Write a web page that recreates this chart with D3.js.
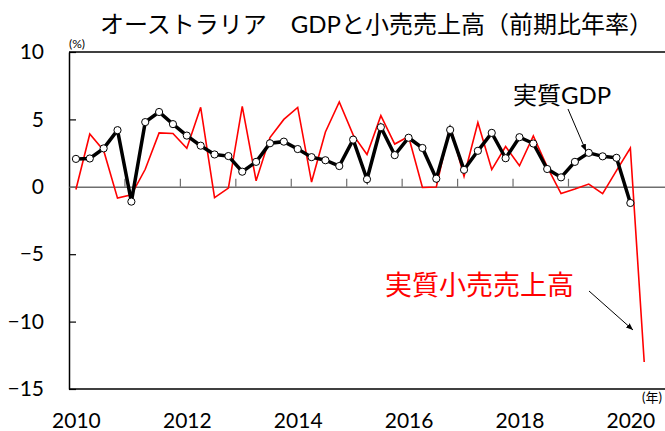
<!DOCTYPE html>
<html>
<head>
<meta charset="utf-8">
<script src="https://cdn.jsdelivr.net/npm/d3@7"></script>
<style>
  body { margin: 0; background: #fff; }
  svg { display: block; font-family: Lato, 'Noto Sans CJK JP', sans-serif; }
</style>
</head>
<body>
<svg id="chart" width="665" height="431"></svg>
<script>
// quarterly, 2010Q1 .. 2020Q2 (percent, annualised q/q)
const gdp = [
  2.07, 2.1, 2.85, 4.2, -1.1, 4.8, 5.55, 4.65, 3.8, 3.05,
  2.4, 2.28, 1.12, 1.85, 3.23, 3.35, 2.8, 2.2, 1.97, 1.54,
  3.5, 0.56, 4.42, 2.35, 3.64, 2.88, 0.6, 4.22, 1.26, 2.67,
  4.0, 2.12, 3.68, 3.21, 1.32, 0.7, 1.85, 2.52, 2.26, 2.15,
  -1.2
]
const retail = [
  -0.2, 3.92, 2.7, -0.84, -0.6, 1.3, 4.0, 3.95, 2.86, 5.9,
  -0.8, -0.1, 5.97, 0.45, 3.65, 5.0, 5.89, 0.35, 4.07, 6.3,
  3.85, 2.4, 5.28, 3.17, 3.73, -0.05, -0.02, 4.5, 0.77, 4.77,
  1.28, 2.99, 1.56, 3.78, 1.48, -0.5, -0.17, 0.2, -0.5, 1.2,
  2.88, -13.0
]
const yearLabels = ['2010', '2012', '2014', '2016', '2018', '2020']
const yTicks = [10, 5, 0, -5, -10, -15]

const svg = d3.select('#chart')

const plot = { left: 69, right: 665, top: 52, bottom: 389 }

const x = d3.scaleLinear().domain([-0.5, 42.5]).range([plot.left, plot.right])
const y = d3.scaleLinear().domain([-15, 10]).range([plot.bottom, plot.top])

// frame
svg.append('line')
  .attr('x1', plot.left).attr('x2', plot.right)
  .attr('y1', plot.top).attr('y2', plot.top)
  .attr('stroke', '#000').attr('stroke-width', 1.5)
svg.append('line')
  .attr('x1', plot.left).attr('x2', plot.right)
  .attr('y1', plot.bottom).attr('y2', plot.bottom)
  .attr('stroke', '#000').attr('stroke-width', 1.5)

// y axis, ticks pointing inwards
const yAxis = svg.append('g')
  .attr('transform', `translate(${plot.left},0)`)
  .call(d3.axisLeft(y).tickValues(yTicks).tickSize(-7).tickPadding(25).tickSizeOuter(0))
yAxis.select('.domain').attr('stroke', '#000').attr('stroke-width', 1.5)
yAxis.selectAll('.tick line').attr('stroke', '#000').attr('stroke-width', 1.2)
yAxis.selectAll('.tick text')
  .attr('font-size', 21)
  .attr('fill', '#000')
  .attr('font-family', 'Lato, sans-serif')

// zero line with year boundary ticks
const yearBounds = d3.range(3.5, 42, 4)
const zeroAxis = svg.append('g')
  .attr('transform', `translate(0,${y(0)})`)
  .call(d3.axisBottom(x).tickValues(yearBounds).tickSize(-8).tickSizeOuter(0).tickFormat(''))
zeroAxis.select('.domain').attr('stroke', '#6e6e6e').attr('stroke-width', 1.5)
zeroAxis.selectAll('.tick line').attr('stroke', '#6e6e6e').attr('stroke-width', 1.2)

// year labels under the plot
const yearAxis = svg.append('g')
  .attr('transform', `translate(0,${plot.bottom})`)
  .call(d3.axisBottom(x)
    .tickValues(yearLabels.map((d, i) => i * 8))
    .tickFormat((d, i) => yearLabels[i])
    .tickSize(0).tickPadding(24))
yearAxis.select('.domain').remove()
yearAxis.selectAll('.tick text')
  .attr('font-size', 21)
  .attr('fill', '#000')
  .attr('font-family', 'Lato, sans-serif')

// series
const line = d3.line()
  .x((d, i) => x(i))
  .y(d => y(d))

svg.append('path')
  .datum(retail)
  .attr('d', line)
  .attr('fill', 'none')
  .attr('stroke', '#ff0000')
  .attr('stroke-width', 1.6)

svg.append('path')
  .datum(gdp)
  .attr('d', line)
  .attr('fill', 'none')
  .attr('stroke', '#000')
  .attr('stroke-width', 3.5)

svg.append('g')
  .selectAll('circle')
  .data(gdp)
  .join('circle')
  .attr('cx', (d, i) => x(i))
  .attr('cy', d => y(d))
  .attr('r', 3.6)
  .attr('fill', '#fff')
  .attr('stroke', '#000')
  .attr('stroke-width', 1)

// title and unit notes
svg.append('text')
  .attr('x', 100)
  .attr('y', 33)
  .attr('font-size', 24)
  .attr('fill', '#000')
  .text('オーストラリア　GDPと小売売上高（前期比年率）')

svg.append('text')
  .attr('x', 69)
  .attr('y', 48)
  .attr('font-size', 12)
  .attr('fill', '#000')
  .text('(%)')

svg.append('text')
  .attr('x', 662)
  .attr('y', 402)
  .attr('text-anchor', 'end')
  .attr('font-size', 13)
  .attr('fill', '#000')
  .text('(年)')

// series labels with arrows
const defs = svg.append('defs')
defs.append('marker')
  .attr('id', 'arrow')
  .attr('viewBox', '0 0 10 10')
  .attr('refX', 10).attr('refY', 5)
  .attr('markerWidth', 7).attr('markerHeight', 7)
  .attr('orient', 'auto')
  .append('path')
  .attr('d', 'M0,1 L10,5 L0,9 Z')
  .attr('fill', '#000')

svg.append('text')
  .attr('x', 513)
  .attr('y', 104)
  .attr('font-size', 24)
  .attr('fill', '#000')
  .text('実質GDP')

svg.append('line')
  .attr('x1', 568).attr('y1', 109)
  .attr('x2', 586).attr('y2', 151)
  .attr('stroke', '#000').attr('stroke-width', 1)
  .attr('marker-end', 'url(#arrow)')

svg.append('text')
  .attr('x', 385)
  .attr('y', 295)
  .attr('font-size', 27)
  .attr('fill', '#ff0000')
  .text('実質小売売上高')

svg.append('line')
  .attr('x1', 589).attr('y1', 291)
  .attr('x2', 633).attr('y2', 330)
  .attr('stroke', '#000').attr('stroke-width', 1)
  .attr('marker-end', 'url(#arrow)')
</script>
</body>
</html>
